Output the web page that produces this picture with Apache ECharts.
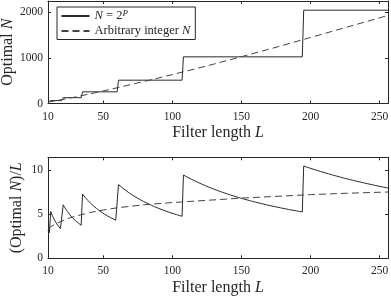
<!DOCTYPE html>
<html>
<head>
<meta charset="utf-8">
<script src="https://cdn.jsdelivr.net/npm/echarts@6/dist/echarts.min.js"></script>
<style>
html,body{margin:0;padding:0;background:#fff;}
#c{width:391px;height:296px;}
</style>
</head>
<body>
<div id="c"></div>
<script>
// Step function N = 2^P : filter length where each power of two starts, and its value
const stepStartL = [10, 12, 21, 35, 61, 108, 195];
const stepN = [32, 64, 128, 256, 512, 1024, 2048];
const lastL = 256;
// Arbitrary integer N
const arbL = [10, 12, 15, 20, 25, 30, 40, 50, 60, 80, 100, 125, 150, 175, 200, 225, 256];
const arbN = [34, 43, 58, 85, 114, 144, 208, 275, 345, 488, 635, 825, 1028, 1234, 1450, 1665, 1933];
// Tick labels
const xTicks = [10, 50, 100, 150, 200, 250];
const yTopTicks = [0, 1000, 2000];
const yBotTicks = [0, 5, 10];

// Build series data from the arrays
const topStep = [];
const botStep = [];
for (let i = 0; i < stepStartL.length; i++) {
  const a = stepStartL[i];
  const b = (i + 1 < stepStartL.length) ? stepStartL[i + 1] - 1 : lastL;
  topStep.push([a, stepN[i]], [b, stepN[i]]);
  for (let L = a; L <= b; L++) botStep.push([L, stepN[i] / L]);
}
const topArb = arbL.map((L, i) => [L, arbN[i]]);
const botArb = arbL.map((L, i) => [L, arbN[i] / L]);

const FONT = 'Liberation Serif';
const AX = '#262626';
const rich = {i: {fontStyle: 'italic', fontFamily: FONT, fontSize: 16, color: AX}};
const plain = v => String(v);

function xAx(grid, pos, main) {
  return {
    gridIndex: grid, type: 'value', position: pos, min: 10, max: lastL,
    axisLine: {show: true, onZero: false, lineStyle: {color: AX, width: 1}},
    axisTick: {show: true, inside: true, length: 3, customValues: xTicks, lineStyle: {color: AX}},
    axisLabel: main ? {show: true, customValues: xTicks, formatter: plain, margin: 7, fontFamily: FONT, fontSize: 11.5, color: AX} : {show: false},
    splitLine: {show: false},
    name: main ? 'Filter length {i|L}' : '',
    nameLocation: 'middle', nameGap: 21, nameMoveOverlap: false,
    nameTextStyle: {fontFamily: FONT, fontSize: 16, color: AX, rich: rich}
  };
}
function yAx(grid, pos, main, max, ticks, name, gap) {
  return {
    gridIndex: grid, type: 'value', position: pos, min: 0, max: max,
    axisLine: {show: true, onZero: false, lineStyle: {color: AX, width: 1}},
    axisTick: {show: true, inside: true, length: 3, customValues: ticks, lineStyle: {color: AX}},
    axisLabel: main ? {show: true, customValues: ticks, formatter: plain, margin: 5, fontFamily: FONT, fontSize: 11.5, color: AX} : {show: false},
    splitLine: {show: false},
    name: main ? name : '',
    nameLocation: 'middle', nameGap: gap, nameRotate: 90, nameMoveOverlap: false,
    nameTextStyle: {fontFamily: FONT, fontSize: 16, color: AX, rich: rich}
  };
}

const chart = echarts.init(document.getElementById('c'), null, {renderer: 'canvas'});
chart.setOption({
  animation: false,
  backgroundColor: '#fff',
  grid: [
    {left: 48, right: 3, top: 1, height: 102.5, containLabel: false, outerBoundsMode: 'none'},
    {left: 48, right: 3, top: 157.3, height: 101, containLabel: false, outerBoundsMode: 'none'}
  ],
  legend: {
    data: ['N = 2^P', 'Arbitrary integer N'],
    orient: 'vertical', left: 57, top: 7,
    padding: [2, 5, 2, 3.5],
    itemWidth: 28, itemHeight: 10, itemGap: 2,
    borderColor: AX, borderWidth: 1, backgroundColor: '#fff',
    itemStyle: {color: 'rgba(0,0,0,0)', borderWidth: 0, opacity: 0},
    textStyle: {
      fontFamily: FONT, fontSize: 12.5, color: AX,
      rich: {
        i: {fontStyle: 'italic', fontFamily: FONT, fontSize: 12.5, color: AX},
        s: {fontStyle: 'italic', fontFamily: FONT, fontSize: 9, color: AX, verticalAlign: 'top', padding: [0, 0, 5, 0]},
        n: {fontFamily: FONT, fontSize: 12.5, color: AX}
      }
    },
    formatter: function (name) {
      if (name === 'N = 2^P') return '{i|N}{n| = 2}{s|P}';
      return '{n|Arbitrary integer }{i|N}';
    }
  },
  xAxis: [xAx(0, 'bottom', true), xAx(0, 'top', false), xAx(1, 'bottom', true), xAx(1, 'top', false)],
  yAxis: [
    yAx(0, 'left', true, 2250, yTopTicks, 'Optimal {i|N}', 32.5),
    yAx(0, 'right', false, 2250, yTopTicks, '', 0),
    yAx(1, 'left', true, 11.5, yBotTicks, '(Optimal {i|N})/{i|L}', 23.5),
    yAx(1, 'right', false, 11.5, yBotTicks, '', 0)
  ],
  series: [
    {name: 'N = 2^P', type: 'line', xAxisIndex: 0, yAxisIndex: 0, data: topStep, symbol: 'none',
      lineStyle: {color: '#2a2a2a', width: 1}, itemStyle: {color: '#2a2a2a'}},
    {name: 'Arbitrary integer N', type: 'line', xAxisIndex: 0, yAxisIndex: 0, data: topArb, symbol: 'none',
      lineStyle: {color: '#444', width: 1, type: [7, 4]}, itemStyle: {color: '#444'}},
    {name: 'N = 2^P', type: 'line', xAxisIndex: 2, yAxisIndex: 2, data: botStep, symbol: 'none',
      lineStyle: {color: '#2a2a2a', width: 1}, itemStyle: {color: '#2a2a2a'}},
    {name: 'Arbitrary integer N', type: 'line', xAxisIndex: 2, yAxisIndex: 2, data: botArb, symbol: 'none',
      lineStyle: {color: '#444', width: 1, type: [7, 4]}, itemStyle: {color: '#444'}}
  ]
});
</script>
</body>
</html>
